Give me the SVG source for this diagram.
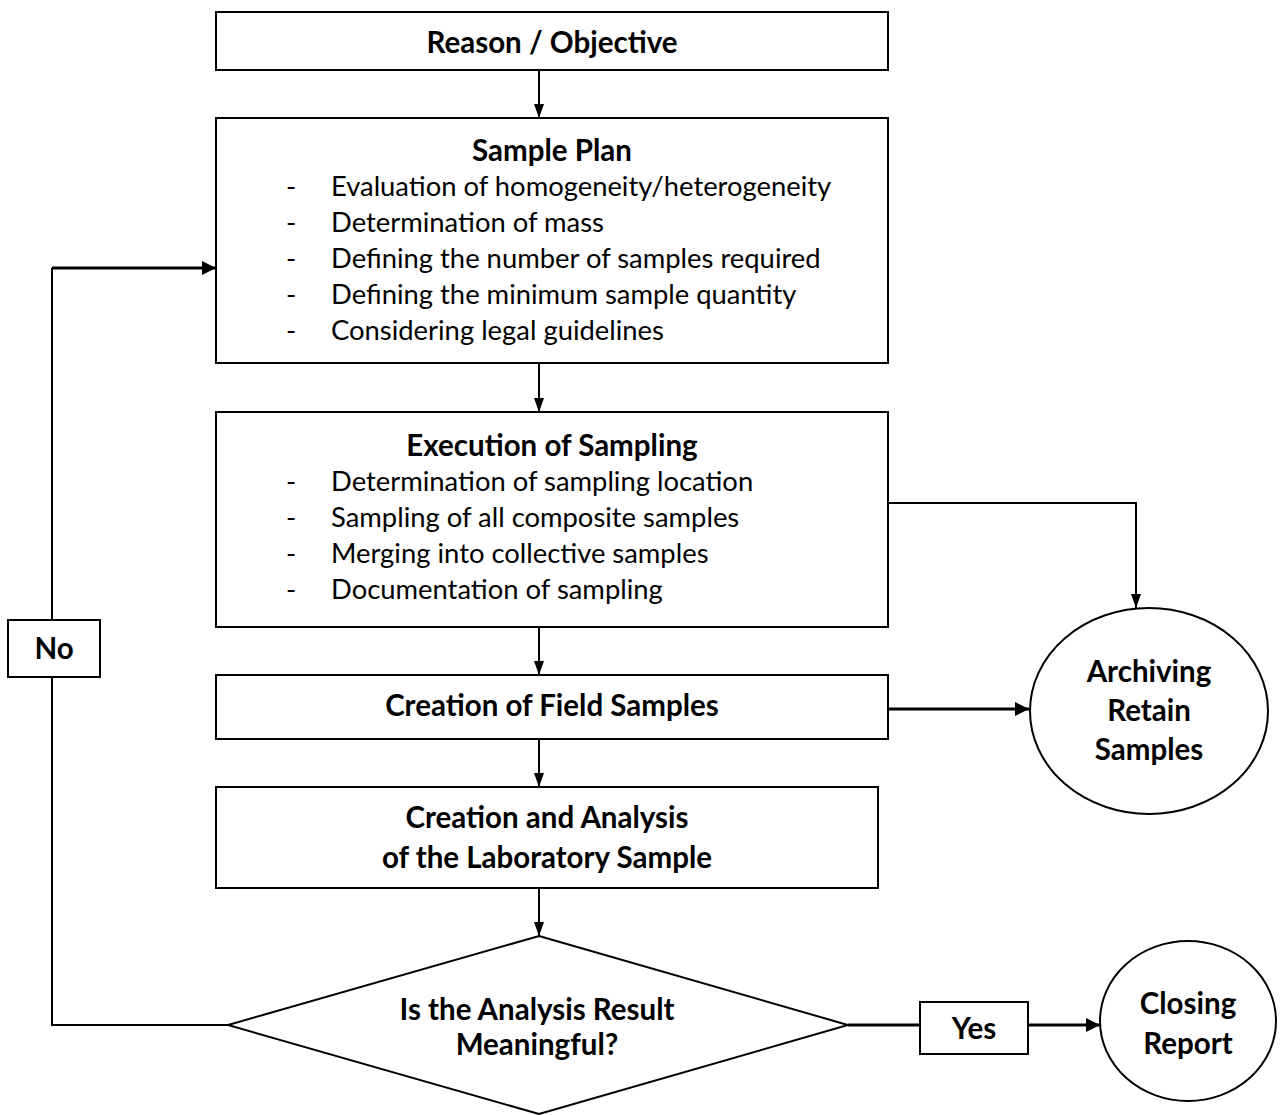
<svg xmlns="http://www.w3.org/2000/svg" width="1284" height="1115" viewBox="0 0 1284 1115">
<defs>
<marker id="ah" markerWidth="14" markerHeight="12" refX="14" refY="6" orient="auto" markerUnits="userSpaceOnUse" viewBox="0 0 14 12"><path d="M0,1 L14,6 L0,11 z" fill="#000"/></marker>
<marker id="ahb" markerWidth="14" markerHeight="14" refX="14" refY="7" orient="auto" markerUnits="userSpaceOnUse" viewBox="0 0 14 14"><path d="M0,0 L14,7 L0,14 z" fill="#000"/></marker>
<style>
.box{fill:#fff;stroke:#000;stroke-width:2}
.t{font-family:Lato,"Liberation Sans",sans-serif;font-size:27.4px;fill:#000}
.b{font-weight:bold;text-anchor:middle;font-size:29.5px}
.c{fill:none;stroke:#000;stroke-width:2}
.cb{fill:none;stroke:#000;stroke-width:3}
</style>
</defs>
<rect width="1284" height="1115" fill="#fff"/>
<g id="connectors">
<line class="c" x1="539" y1="70" x2="539" y2="118" marker-end="url(#ah)"/>
<line class="c" x1="539" y1="363" x2="539" y2="412" marker-end="url(#ah)"/>
<line class="c" x1="539" y1="627" x2="539" y2="675" marker-end="url(#ah)"/>
<line class="c" x1="539" y1="739" x2="539" y2="787" marker-end="url(#ah)"/>
<line class="c" x1="539" y1="888" x2="539" y2="936" marker-end="url(#ah)"/>
<polyline class="c" points="888,503 1136,503 1136,608" marker-end="url(#ah)"/>
<line class="cb" x1="888" y1="709" x2="1029" y2="709" marker-end="url(#ahb)"/>
<polyline class="c" points="228,1025 52,1025 52,268"/>
<line class="cb" x1="52" y1="268" x2="216" y2="268" marker-end="url(#ahb)"/>
<line class="cb" x1="848" y1="1025" x2="920" y2="1025"/>
<line class="cb" x1="1028" y1="1025" x2="1100" y2="1025" marker-end="url(#ahb)"/>
</g>
<g id="reason">
<rect class="box" x="216" y="12" width="672" height="58"/>
<text class="t b" x="552" y="53">Reason / Objective</text>
</g>
<g id="sample-plan">
<rect class="box" x="216" y="118" width="672" height="245"/>
<text class="t b" x="552" y="161">Sample Plan</text>
<g class="t">
<text x="286" y="196">-</text><text x="331" y="196">Evaluation of homogeneity/heterogeneity</text>
<text x="286" y="232">-</text><text x="331" y="232">Determination of mass</text>
<text x="286" y="268">-</text><text x="331" y="268">Defining the number of samples required</text>
<text x="286" y="304">-</text><text x="331" y="304">Defining the minimum sample quantity</text>
<text x="286" y="340">-</text><text x="331" y="340">Considering legal guidelines</text>
</g>
</g>
<g id="execution">
<rect class="box" x="216" y="412" width="672" height="215"/>
<text class="t b" x="552" y="456">Execution of Sampling</text>
<g class="t">
<text x="286" y="491">-</text><text x="331" y="491">Determination of sampling location</text>
<text x="286" y="527">-</text><text x="331" y="527">Sampling of all composite samples</text>
<text x="286" y="563">-</text><text x="331" y="563">Merging into collective samples</text>
<text x="286" y="599">-</text><text x="331" y="599">Documentation of sampling</text>
</g>
</g>
<g id="field-samples">
<rect class="box" x="216" y="675" width="672" height="64"/>
<text class="t b" x="552" y="716">Creation of Field Samples</text>
</g>
<g id="lab-sample">
<rect class="box" x="216" y="787" width="662" height="101"/>
<text class="t b" x="547" y="828">Creation and Analysis</text>
<text class="t b" x="547" y="868">of the Laboratory Sample</text>
</g>
<g id="decision">
<polygon class="box" points="539,936 848,1025 539,1114 228,1025"/>
<text class="t b" x="537" y="1020">Is the Analysis Result</text>
<text class="t b" x="537" y="1055">Meaningful?</text>
</g>
<g id="archiving">
<ellipse class="box" cx="1149" cy="711" rx="119" ry="103"/>
<text class="t b" x="1149" y="682">Archiving</text>
<text class="t b" x="1149" y="721">Retain</text>
<text class="t b" x="1149" y="760">Samples</text>
</g>
<g id="no-label">
<rect class="box" x="8" y="620" width="92" height="57"/>
<text class="t b" x="54" y="659">No</text>
</g>
<g id="yes-label">
<rect class="box" x="920" y="1002" width="108" height="52"/>
<text class="t b" x="974" y="1039">Yes</text>
</g>
<g id="closing">
<ellipse class="box" cx="1188" cy="1021" rx="88" ry="80"/>
<text class="t b" x="1188" y="1014">Closing</text>
<text class="t b" x="1188" y="1054">Report</text>
</g>
</svg>
